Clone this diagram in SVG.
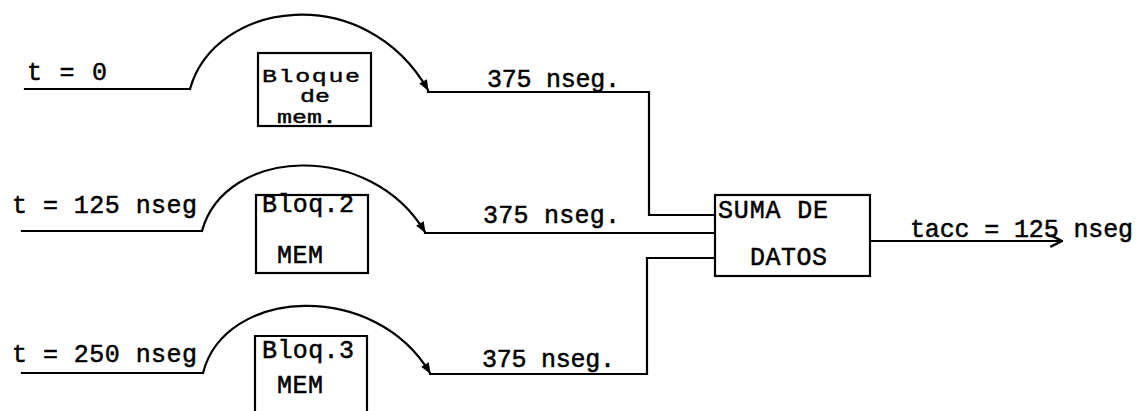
<svg xmlns="http://www.w3.org/2000/svg" width="1145" height="411" viewBox="0 0 1145 411">
<defs>
<style>
.ln{fill:none;stroke:#000;stroke-width:2.2;stroke-linecap:square;stroke-linejoin:miter}
.bx{fill:#fff;stroke:#000;stroke-width:2.2}
.t{font-family:"Liberation Mono","Courier New",monospace;font-size:25px;fill:#000;stroke:#000;stroke-width:0.5}
</style>
<marker id="ah" viewBox="0 0 10 10" refX="9" refY="5" markerWidth="13" markerHeight="11" orient="auto" markerUnits="userSpaceOnUse">
<path d="M0,1 L10,5 L0,9 Z" fill="#000"/>
</marker>
<marker id="ao" viewBox="0 0 12 12" refX="11" refY="6" markerWidth="14" markerHeight="14" orient="auto" markerUnits="userSpaceOnUse">
<path d="M1,1 L11,6 L1,11" fill="none" stroke="#000" stroke-width="2"/>
</marker>
</defs>
<g id="connectors">
<path class="ln" d="M25,89 L190,89"/>
<path class="ln" d="M190,89 C215,0 365,-20 428,90" marker-end="url(#ah)"/>
<path class="ln" d="M428,92 L649,92 L649,215 L715,215"/>
<path class="ln" d="M22,231 L202,231"/>
<path class="ln" d="M202,231 C225,147 370,140 425,232" marker-end="url(#ah)"/>
<path class="ln" d="M425,233 L715,233"/>
<path class="ln" d="M22,373 L203,373"/>
<path class="ln" d="M203,373 C225,287 375,280 430,373" marker-end="url(#ah)"/>
<path class="ln" d="M430,374 L647,374 L647,258 L715,258"/>
<path class="ln" d="M870,241 L1062,241" marker-end="url(#ao)"/>
</g>
<g id="labels">
<text class="t" x="27" y="80" textLength="80" lengthAdjust="spacing">t = 0</text>
<text class="t" x="12" y="213" textLength="185" lengthAdjust="spacing">t = 125 nseg</text>
<text class="t" x="12" y="362" textLength="185" lengthAdjust="spacing">t = 250 nseg</text>
<text class="t" x="487" y="87" textLength="133" lengthAdjust="spacing">375 nseg.</text>
<text class="t" x="483" y="223" textLength="137" lengthAdjust="spacing">375 nseg.</text>
<text class="t" x="482" y="367" textLength="133" lengthAdjust="spacing">375 nseg.</text>
<text class="t" x="910" y="237" textLength="223" lengthAdjust="spacing">tacc = 125 nseg</text>
</g>
<g id="bloque1">
<rect class="bx" x="258" y="53" width="113" height="73"/>
<text class="t" transform="translate(262,82) scale(1,0.75)" x="0" y="0" textLength="98" lengthAdjust="spacing">Bloque</text>
<text class="t" transform="translate(300,102) scale(1,0.75)" x="0" y="0">de</text>
<text class="t" transform="translate(277,123) scale(1,0.75)" x="0" y="0">mem.</text>
</g>
<g id="bloque2">
<rect class="bx" x="256" y="195" width="112" height="78"/>
<text class="t" x="262" y="212" textLength="92" lengthAdjust="spacing">Bloq.2</text>
<text class="t" x="277" y="263" textLength="46" lengthAdjust="spacing">MEM</text>
</g>
<g id="bloque3">
<path class="ln" d="M255,420 L255,336 L367,336 L367,420"/>
<text class="t" x="262" y="358" textLength="92" lengthAdjust="spacing">Bloq.3</text>
<text class="t" x="277" y="393" textLength="46" lengthAdjust="spacing">MEM</text>
</g>
<g id="suma">
<rect class="bx" x="715" y="195" width="155" height="81"/>
<text class="t" x="718" y="218" textLength="110" lengthAdjust="spacing">SUMA DE</text>
<text class="t" x="750" y="265" textLength="77" lengthAdjust="spacing">DATOS</text>
</g>
</svg>
